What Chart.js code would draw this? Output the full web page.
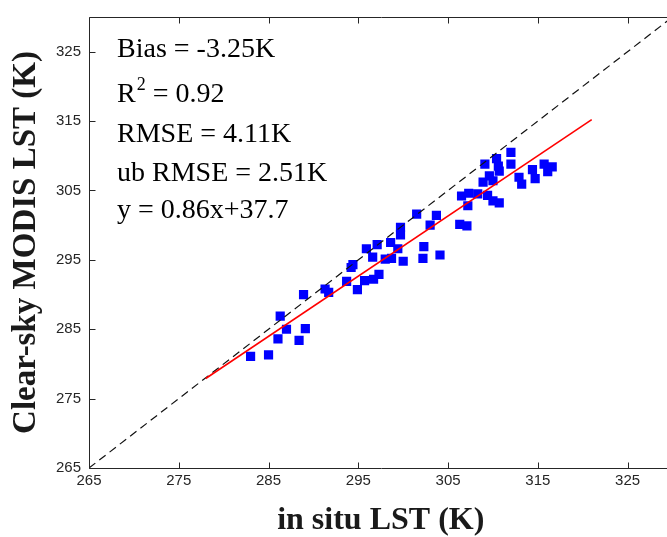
<!DOCTYPE html>
<html><head><meta charset="utf-8">
<script src="https://cdn.jsdelivr.net/npm/chart.js@4"></script>
<style>html,body{margin:0;padding:0;background:#fff;overflow:hidden}#wrap{width:667px;height:537px;overflow:hidden;position:relative;background:#fff}</style>
</head><body><div id="wrap"><canvas id="c" width="679" height="537" style="width:679px;height:537px"></canvas></div>
<script>
// in situ LST (x) and Clear-sky MODIS LST (y)
const insituX = [283.0,285.0,286.05,286.3,287.0,288.4,289.1,288.9,291.3,291.7,
  293.7,294.4,294.2,294.9,295.7,295.9,296.6,296.7,297.1,297.3,
  298.0,298.6,298.7,299.4,299.7,299.7,300.0,301.5,302.3,302.2,
  303.0,303.7,304.1,306.3,307.1,306.5,307.3,307.2,308.3,309.4,
  310.0,310.7,308.9,310.0,309.6,309.1,310.4,310.6,310.7,312.0,
  312.0,312.9,313.2,314.4,314.7,315.7,316.1,316.6];
const modisY = [281.1,281.3,283.6,286.9,285.0,283.4,285.1,290.0,290.8,290.3,
  291.9,294.3,293.9,290.7,292.0,296.6,295.4,292.2,297.2,292.9,
  295.1,297.5,295.2,296.6,298.6,299.7,294.8,301.6,296.9,295.2,
  300.0,301.4,295.7,300.1,299.9,304.2,304.6,302.8,304.5,304.3,
  303.5,303.2,306.2,306.4,307.1,308.8,309.6,308.5,307.8,310.5,
  308.8,306.9,305.9,308.0,306.7,308.8,307.7,308.4];
const fitX = [278.0, 321.0];
const fitY = [277.9, 315.2];
const oneToOneX = [265, 330];
const oneToOneY = [265, 330];
const xTicks = [265,275,285,295,305,315,325];
const yTicks = [265,275,285,295,305,315,325];
const axisMin = 265, axisMax = 330;
const statsText = ["Bias = -3.25K", "R|2| = 0.92", "RMSE = 4.11K", "ub RMSE = 2.51K", "y = 0.86x+37.7"];

const toPts = (xs, ys) => xs.map((x, i) => ({x: x, y: ys[i]}));
const AX = '#262626';

const framePlugin = {
  id: 'frame',
  afterDatasetsDraw(chart) {
    const ctx = chart.ctx, a = chart.chartArea;
    const xs = chart.scales.x, ys = chart.scales.y;
    const L = Math.round(a.left) + 0.5, R = Math.round(a.right) + 0.5;
    const T = Math.round(a.top) + 0.5, B = Math.round(a.bottom) + 0.5;
    ctx.save();
    ctx.strokeStyle = AX; ctx.lineWidth = 1;
    ctx.beginPath();
    ctx.rect(L, T, R - L, B - T);
    const tl = 6;
    xTicks.forEach(v => {
      const p = Math.round(xs.getPixelForValue(v)) + 0.5;
      ctx.moveTo(p, B); ctx.lineTo(p, B - tl);
      ctx.moveTo(p, T); ctx.lineTo(p, T + tl);
    });
    yTicks.forEach(v => {
      const p = Math.round(ys.getPixelForValue(v)) + 0.5;
      ctx.moveTo(L, p); ctx.lineTo(L + tl, p);
      ctx.moveTo(R, p); ctx.lineTo(R - tl, p);
    });
    ctx.stroke();
    // statistics text
    ctx.fillStyle = '#000';
    ctx.textBaseline = 'alphabetic';
    ctx.textAlign = 'left';
    const big = '28px "Liberation Serif", "Times New Roman", serif';
    const small = '18px "Liberation Serif", "Times New Roman", serif';
    const x0 = a.left + 28;
    const baselines = [40, 85, 125, 164, 201];
    statsText.forEach((s, i) => {
      const y = a.top + baselines[i];
      const parts = s.split('|');
      if (parts.length === 3) {
        ctx.font = big; ctx.fillText(parts[0], x0, y);
        let w = ctx.measureText(parts[0]).width;
        ctx.font = small; ctx.fillText(parts[1], x0 + w + 1, y - 12);
        w += ctx.measureText(parts[1]).width + 1;
        ctx.font = big; ctx.fillText(parts[2], x0 + w, y);
      } else {
        ctx.font = big; ctx.fillText(s, x0, y);
      }
    });
    ctx.restore();
  }
};

new Chart(document.getElementById('c'), {
  type: 'scatter',
  data: {
    datasets: [
      {
        label: 'fit', data: toPts(fitX, fitY), showLine: true,
        borderColor: '#ff0000', borderWidth: 1.6, pointRadius: 0, order: 1
      },
      {
        label: '1:1', data: toPts(oneToOneX, oneToOneY), showLine: true,
        borderColor: '#111', borderWidth: 1.2, borderDash: [8, 5], pointRadius: 0, order: 2
      },
      {
        label: 'obs', data: toPts(insituX, modisY),
        pointStyle: 'rect', pointRadius: 6.5, backgroundColor: '#0000ff',
        borderColor: '#0000ff', borderWidth: 0, order: 3
      }
    ]
  },
  options: {
    responsive: false, animation: false, devicePixelRatio: 1,
    layout: {padding: {top: 13, right: 1.5, left: 0, bottom: 0}},
    plugins: {legend: {display: false}, tooltip: {enabled: false}},
    scales: {
      x: {
        type: 'linear', min: axisMin, max: axisMax,
        grid: {display: false, drawTicks: false}, border: {display: false},
        afterBuildTicks: s => { s.ticks = xTicks.map(v => ({value: v})); },
        afterFit: s => { s.height = 69; },
        ticks: {padding: 4, color: AX, maxRotation: 0, autoSkip: false,
          font: {family: '"Liberation Sans", Arial, sans-serif', size: 15}},
        title: {display: true, text: 'in situ LST (K)', color: '#1a1a1a',
          padding: {top: 0, bottom: 0},
          font: {family: '"Liberation Serif", "Times New Roman", serif', size: 32, weight: 'bold', lineHeight: 1}}
      },
      y: {
        type: 'linear', min: axisMin, max: axisMax,
        grid: {display: false, drawTicks: false}, border: {display: false},
        afterBuildTicks: s => { s.ticks = yTicks.map(v => ({value: v})); },
        afterFit: s => { s.width = 89; },
        ticks: {padding: 8, color: AX, autoSkip: false,
          font: {family: '"Liberation Sans", Arial, sans-serif', size: 15}},
        title: {display: true, text: 'Clear-sky MODIS LST (K)', color: '#1a1a1a',
          padding: {top: 10, bottom: 0},
          font: {family: '"Liberation Serif", "Times New Roman", serif', size: 33, weight: 'bold', lineHeight: 1}}
      }
    }
  },
  plugins: [framePlugin]
});
</script>
</body></html>
